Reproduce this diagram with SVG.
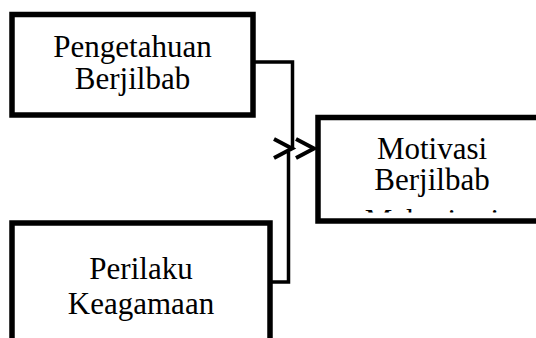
<svg xmlns="http://www.w3.org/2000/svg" width="536" height="338" viewBox="0 0 536 338">
  <style>
    .box { fill: #fff; stroke: #000; stroke-width: 5.5; }
    .lbl { font-family: "Liberation Serif", "Times New Roman", serif; font-size: 31px; fill: #000; text-anchor: middle; }
    .wire { fill: none; stroke: #000; stroke-width: 3.5; }
    .head { fill: none; stroke: #000; stroke-width: 4; stroke-linecap: butt; stroke-linejoin: miter; }
  </style>
  <defs>
    <clipPath id="motivasiClip">
      <rect x="318" y="117" width="230" height="95.5"/>
    </clipPath>
  </defs>
  <rect width="536" height="338" fill="#fff"/>

  <g id="connectors">
    <polyline class="wire" points="253,62 292.5,62 292.5,149"/>
    <polyline class="wire" points="270,282 288.5,282 288.5,152"/>
    <polyline class="head" points="274,139 292,148.5 274,158"/>
    <polyline class="head" points="296,139 314,148.5 296,158"/>
  </g>

  <g id="node-pengetahuan">
    <rect class="box" x="12" y="14.5" width="241" height="100.5"/>
    <text class="lbl" x="132.5" y="57">Pengetahuan</text>
    <text class="lbl" x="132.5" y="88.5">Berjilbab</text>
  </g>

  <g id="node-perilaku">
    <rect class="box" x="12" y="223" width="258" height="140"/>
    <text class="lbl" x="141" y="278.5">Perilaku</text>
    <text class="lbl" x="141" y="313.5">Keagamaan</text>
  </g>

  <g id="node-motivasi">
    <rect class="box" x="318" y="117.5" width="240" height="103.5"/>
    <text class="lbl" x="432" y="158.5">Motivasi</text>
    <text class="lbl" x="432" y="190">Berjilbab</text>
    <text class="lbl" x="432" y="231" clip-path="url(#motivasiClip)">Mahasiswi</text>
  </g>
</svg>
